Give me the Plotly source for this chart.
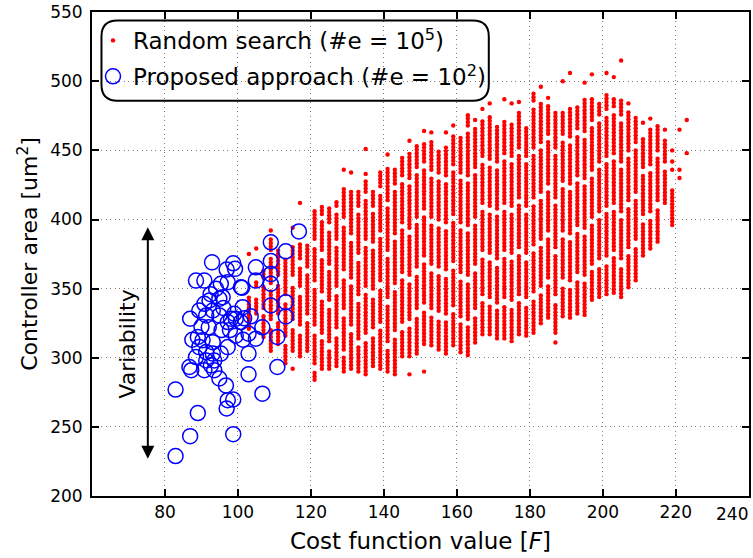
import plotly.graph_objects as go

# ---------------- data ----------------
# Random search: samples fall in vertical columns of cost value; for each column
# the y-extents (controller area) of the dotted runs.
rs_x = list(range(103, 224, 2))
rs_runs = [
    [[321, 344], [375, 375]],
    [[332, 344], [352, 356], [379, 379]],
    [[315, 330], [336, 352], [358, 365]],
    [[305, 322], [328, 348], [354, 372], [378, 386], [392, 392]],
    [[310, 326], [332, 352], [360, 378]],
    [[296, 310], [316, 340], [346, 371]],
    [[292, 292], [305, 322], [328, 352], [360, 382], [394, 394]],
    [[301, 318], [324, 346], [352, 366], [372, 382], [412, 412]],
    [[305, 326], [332, 360], [366, 381]],
    [[284, 290], [296, 318], [324, 350], [356, 380], [386, 406]],
    [[292, 312], [318, 342], [348, 372], [378, 398], [404, 411]],
    [[292, 306], [312, 336], [342, 362], [368, 392], [398, 408]],
    [[294, 316], [322, 346], [352, 380], [386, 404], [410, 414]],
    [[290, 300], [306, 330], [336, 358], [364, 396], [402, 424], [436, 436]],
    [[292, 318], [324, 352], [358, 384], [390, 420], [434, 434]],
    [[290, 308], [314, 340], [346, 370], [376, 404], [410, 420]],
    [[288, 312], [318, 346], [352, 380], [386, 414], [420, 428], [433, 433], [451, 451]],
    [[294, 316], [322, 344], [350, 378], [384, 404], [410, 422]],
    [[292, 320], [326, 350], [356, 386], [392, 418], [424, 436]],
    [[290, 306], [312, 338], [344, 372], [378, 408], [414, 438], [447, 447]],
    [[288, 314], [320, 348], [354, 384], [390, 420], [426, 437]],
    [[301, 320], [326, 356], [362, 392], [398, 426], [432, 446]],
    [[288, 288], [301, 322], [328, 354], [360, 388], [394, 424], [430, 448], [457, 457]],
    [[303, 330], [336, 360], [366, 396], [402, 432], [438, 453]],
    [[290, 290], [310, 334], [340, 368], [374, 402], [408, 436], [442, 456], [464, 464]],
    [[309, 330], [336, 362], [368, 396], [402, 430], [436, 456], [463, 463]],
    [[306, 328], [334, 360], [366, 394], [400, 428], [434, 450]],
    [[303, 326], [332, 358], [364, 392], [398, 426], [432, 454], [463, 463]],
    [[309, 332], [338, 364], [370, 398], [404, 434], [440, 460], [468, 468]],
    [[304, 324], [330, 356], [362, 392], [398, 428], [434, 460]],
    [[302, 322], [328, 354], [360, 390], [396, 426], [432, 462], [468, 477]],
    [[311, 330], [336, 362], [368, 396], [402, 432], [438, 466], [472, 472]],
    [[317, 340], [346, 372], [378, 406], [412, 440], [446, 472], [480, 480]],
    [[317, 338], [344, 370], [376, 404], [410, 438], [444, 474], [484, 484]],
    [[314, 334], [340, 366], [372, 402], [408, 436], [442, 469]],
    [[314, 338], [344, 372], [378, 406], [412, 442], [448, 472], [487, 487]],
    [[312, 336], [342, 370], [376, 404], [410, 440], [446, 469], [484, 484]],
    [[317, 340], [346, 374], [380, 410], [416, 446], [452, 477], [485, 485]],
    [[316, 338], [344, 370], [376, 404], [410, 440], [446, 468]],
    [[318, 342], [348, 376], [382, 410], [416, 446], [452, 480], [486, 491]],
    [[325, 346], [352, 380], [386, 414], [420, 450], [456, 484], [496, 496]],
    [[329, 352], [358, 386], [392, 420], [426, 456], [462, 482], [488, 488]],
    [[311, 311], [318, 340], [346, 374], [380, 410], [416, 446], [452, 478]],
    [[330, 352], [358, 386], [392, 422], [428, 456], [462, 477], [500, 500]],
    [[329, 350], [356, 384], [390, 420], [426, 454], [460, 480], [506, 506]],
    [[332, 356], [362, 390], [396, 426], [432, 460], [466, 483]],
    [[331, 354], [360, 388], [394, 424], [430, 458], [464, 488], [499, 499]],
    [[342, 362], [368, 396], [402, 430], [436, 466], [472, 487], [505, 505]],
    [[344, 366], [372, 400], [406, 436], [442, 470], [476, 485]],
    [[346, 368], [374, 404], [410, 440], [446, 474], [480, 490], [506, 506]],
    [[347, 372], [378, 406], [412, 442], [448, 476], [482, 489], [503, 503]],
    [[344, 366], [372, 400], [406, 436], [442, 470], [476, 486], [515, 515]],
    [[351, 374], [380, 408], [414, 444], [450, 478], [484, 484]],
    [[356, 380], [386, 414], [420, 450], [456, 475]],
    [[374, 398], [404, 432], [438, 460], [470, 470]],
    [[379, 400], [406, 434], [440, 466], [473, 473]],
    [[384, 408], [414, 444], [450, 468]],
    [[412, 436], [442, 458], [465, 465]],
    [[396, 421], [436, 436], [442, 442], [450, 450]],
    [[430, 430], [436, 436], [465, 465]],
    [[448, 448], [472, 472]],
]
RUN_STEP = 2.5  # spacing of the dots inside one dotted run

# Proposed approach (#e = 10^2)
pa_x = [116.7, 109, 113.1, 109, 109, 109, 104.9, 98.7, 99.2, 92.9, 96.9, 88.5, 90.8,
        95.3, 97.2, 101.1, 104.9, 113.1, 113.1, 109, 106.7, 104.9, 110.8, 110.8, 102.9,
        102.9, 106.7, 98.7, 96.7, 96.9, 98.7, 82.9, 89, 86.9, 82.9, 86.9, 86.7, 87.2,
        90.8, 93.5, 94.9, 97.2, 102.9, 101.3, 99, 98.1, 99.4, 97.2, 100.8, 94.9, 93.1,
        90.8, 92.2, 94.9, 95.8, 89.4, 91.3, 89, 90.3, 89.4, 91.3, 93.1, 93.1, 93.5,
        92.6, 95.3, 97.2, 88.5, 91.3, 100.8, 99.4, 101.4, 97.8, 95.5, 92, 90, 101.7,
        103.5, 96, 92.5, 94, 87.5]
pa_y = [391.4, 383.5, 377, 370, 360.5, 353.5, 365.4, 368.3, 364.3, 369, 363.8, 355.8,
        355.8, 353.5, 354.6, 350.6, 355.8, 340.2, 329.9, 337.8, 322, 313.8, 315, 293.3,
        303, 288, 274, 269.8, 280, 263.3, 244.7, 277, 260, 243.3, 228.9, 328.2, 293.3,
        291, 291, 291, 285, 269.3, 317.4, 336.6, 331.8, 328.2, 328.2, 325.8, 325.8,
        330.6, 334.2, 339, 341.4, 342.6, 343.8, 334.2, 330.6, 315, 312.6, 307.7, 304.1,
        311.3, 303, 298, 294.5, 303, 307.7, 300.5, 298, 351, 316, 313, 320, 320, 322,
        322.5, 328.5, 330, 336, 346, 350, 313]

x_ticks = [80, 100, 120, 140, 160, 180, 200, 220, 240]
x_tick_labels = ["80", "100", "120", "140", "160", "180", "200", "220", "240"]
y_ticks = [200, 250, 300, 350, 400, 450, 500, 550]

# expand the read runs into dots
rs_px, rs_py = [], []
for cx, runs in zip(rs_x, rs_runs):
    for lo, hi in runs:
        v = lo
        while v <= hi + 0.01:
            rs_px.append(cx)
            rs_py.append(v)
            v += RUN_STEP

FONT = "DejaVu Sans"
fig = go.Figure()
fig.add_trace(go.Scatter(
    x=rs_px, y=rs_py, mode="markers",
    marker=dict(color="#ff0000", size=4.4, line=dict(width=0)),
    name="Random search (#e = 10<sup>5</sup>)", legendgroup="a"))
fig.add_trace(go.Scatter(
    x=pa_x, y=pa_y, mode="markers",
    marker=dict(symbol="circle-open", color="#0000ff", size=15, line=dict(width=1.5, color="#0000ff")),
    name="Proposed approach (#e = 10<sup>2</sup>)", legendgroup="b"))

W, H = 753, 558
L, R, T, B = 92, 2, 10, 62
pw, ph = W - L - R, H - T - B


def to_paper(px, py):
    return (px - L) / pw, (H - B - py) / ph


# rounded legend frame (pixels -> paper)
bx0, bx1, by0, by1, rr = 101.5, 490, 18.5, 99, 16
pts = [("M", bx0 + rr, by0), ("L", bx1 - rr, by0), ("Q", bx1, by0, bx1, by0 + rr),
       ("L", bx1, by1 - rr), ("Q", bx1, by1, bx1 - rr, by1), ("L", bx0 + rr, by1),
       ("Q", bx0, by1, bx0, by1 - rr), ("L", bx0, by0 + rr), ("Q", bx0, by0, bx0 + rr, by0)]
path = ""
for p in pts:
    cmd = p[0]
    coords = p[1:]
    s = []
    for i in range(0, len(coords), 2):
        a, b = to_paper(coords[i], coords[i + 1])
        s.append(f"{a:.5f},{b:.5f}")
    path += cmd + " ".join(s) + " "
path += "Z"

fig.add_shape(type="path", path=path, xref="paper", yref="paper",
              line=dict(color="black", width=2), fillcolor="rgba(255,255,255,0)", layer="above")

lx, ly = to_paper(93, 17)
grid_style = dict(showgrid=True, gridcolor="#808080", griddash="1px,3.5px", gridwidth=1)
axis_style = dict(ticks="inside", ticklen=7, tickwidth=1.5, tickcolor="black", showline=True,
                  linecolor="black", linewidth=2, mirror="allticks", zeroline=False,
                  tickfont=dict(size=17))
fig.update_layout(
    width=W, height=H,
    margin=dict(l=L, r=R, t=T, b=B),
    paper_bgcolor="white", plot_bgcolor="white",
    font=dict(family=FONT, size=17, color="black"),
    showlegend=True,
    legend=dict(x=lx, y=ly, xanchor="left", yanchor="top", bgcolor="rgba(0,0,0,0)",
                borderwidth=0, font=dict(family=FONT, size=23), tracegroupgap=3,
                itemsizing="trace"),
    xaxis=dict(range=[60, 240.05], tickvals=x_ticks,
               ticktext=x_tick_labels[:-1] + [""], **axis_style, **grid_style,
               title=dict(text="Cost function value [<i>F</i>]", font=dict(size=23), standoff=11)),
    yaxis=dict(range=[200, 550.1], tickvals=y_ticks, **axis_style, **grid_style,
               ticklabelstandoff=4,
               title=dict(text="Controller area [um<sup>2</sup>]", font=dict(size=22), standoff=6)),
)

# last x tick label is pulled inside the figure edge, as in the reference
ax_, ay_ = to_paper(751, 514)
fig.add_annotation(x=ax_, y=ay_, xref="paper", yref="paper", text=x_tick_labels[-1],
                   showarrow=False, xanchor="right", yanchor="middle", borderpad=0,
                   font=dict(family=FONT, size=17, color="black"))

fig.add_annotation(x=75.3, y=227, ax=75.3, ay=395.5, xref="x", yref="y", axref="x", ayref="y",
                   text="", showarrow=True, arrowhead=2, arrowsize=1.3, arrowwidth=2,
                   startarrowhead=2, startarrowsize=1.3, arrowside="end+start",
                   arrowcolor="black", standoff=0, startstandoff=0)
fig.add_annotation(x=69.8, y=310, xref="x", yref="y", text="Variability", textangle=-90,
                   showarrow=False, font=dict(family=FONT, size=22, color="black"))

fig.write_html("out.html")
